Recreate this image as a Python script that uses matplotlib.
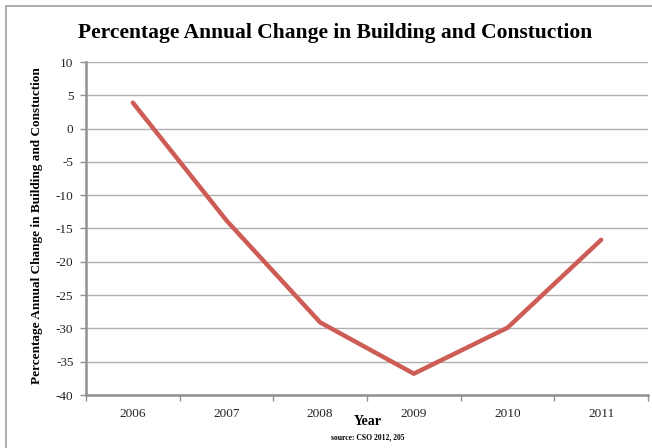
import matplotlib
matplotlib.use("Agg")
import matplotlib.pyplot as plt
from matplotlib.patches import Rectangle
import numpy as np

years = ["2006", "2007", "2008", "2009", "2010", "2011"]
values = [3.9, -13.8, -29.1, -36.8, -29.9, -16.7]
yticks = [10, 5, 0, -5, -10, -15, -20, -25, -30, -35, -40]

plt.rcParams['font.family'] = ['Liberation Serif', 'DejaVu Serif']

fig = plt.figure(figsize=(6.52, 4.48), dpi=100)
fig.patch.set_facecolor('white')
# outer chart border
fig.patches.append(Rectangle((6/652, -0.01), 1.02, 1 - 6/448 + 0.01, transform=fig.transFigure,
                             fill=False, edgecolor='#a0a0a0', linewidth=1.2))

ax = fig.add_axes([86/652, 1 - 395/448, (648 - 86)/652, (395 - 62)/448])
x = np.arange(len(years))
ax.plot(x, values, color='#cd5c55', linewidth=3.2, solid_capstyle='round', solid_joinstyle='round', zorder=3)

ax.set_xlim(-0.5, len(years) - 0.5)
ax.set_ylim(-40, 10)
ax.set_yticks(yticks)
ax.set_yticklabels([str(t) for t in yticks])
ax.set_xticks(x)
ax.set_xticklabels(years)
ax.set_xticks(np.arange(len(years) + 1) - 0.5, minor=True)
ax.tick_params(axis='x', which='major', length=0, labelsize=9.5, pad=9, labelcolor='#222222')
ax.tick_params(axis='x', which='minor', length=4, width=1, color='#909090', direction='out')
ax.tick_params(axis='y', length=4, width=1, color='#909090', labelsize=9.5, pad=5, labelcolor='#222222')
ax.grid(axis='y', color='#b0b0b0', linewidth=1)
ax.set_axisbelow(True)
for s in ['top', 'right']:
    ax.spines[s].set_visible(False)
for s in ['left', 'bottom']:
    ax.spines[s].set_color('#909090')
    ax.spines[s].set_linewidth(1.8)

fig.text(335/652, 1 - 33/448, "Percentage Annual Change in Building and Constuction",
         ha='center', va='center', fontsize=15.5, fontweight='bold')
fig.text(37/652, 1 - 226/448, "Percentage Annual Change in Building and Constuction",
         ha='center', va='center', rotation=90, fontsize=9.5, fontweight='bold')
fig.text(368/652, 1 - 421/448, "Year", ha='center', va='center', fontsize=10, fontweight='bold')
fig.text(368/652, 1 - 437/448, "source: CSO 2012, 205", ha='center', va='center',
         fontsize=5.5, fontweight='bold')

fig.savefig("out.png", dpi=100, facecolor='white')
